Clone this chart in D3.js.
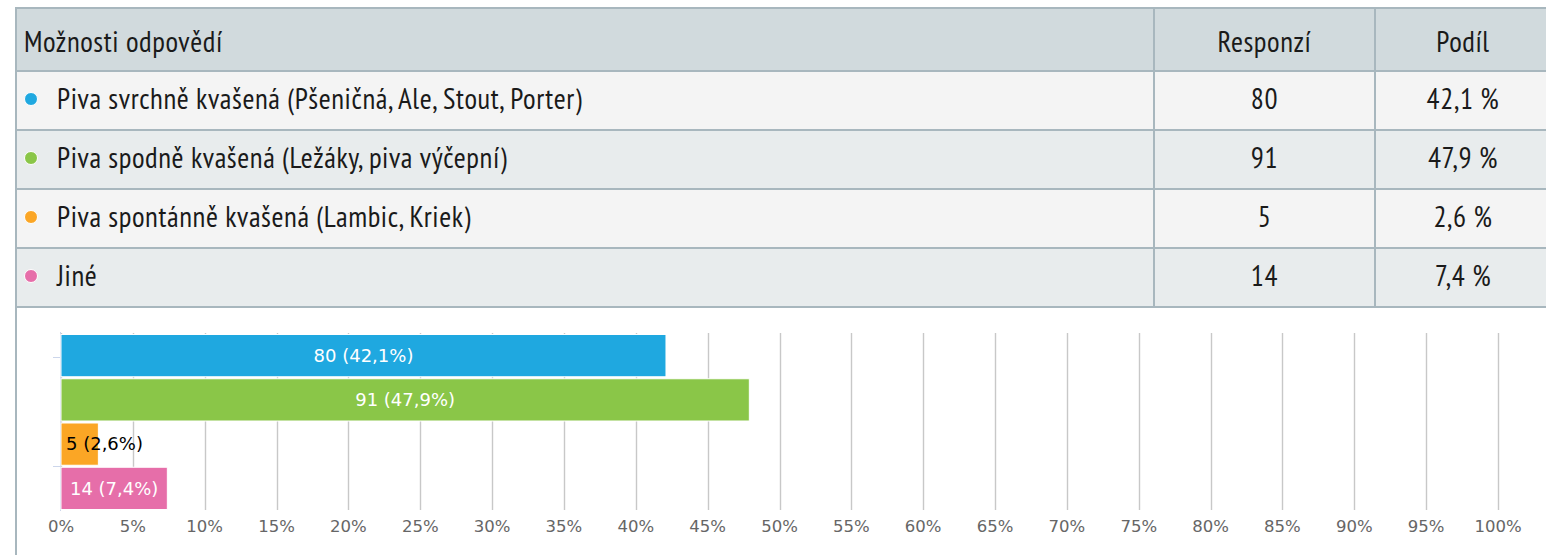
<!DOCTYPE html>
<html>
<head>
<meta charset="utf-8">
<script src="https://cdn.jsdelivr.net/npm/d3@7"></script>
<style>
  html, body { margin: 0; padding: 0; background: #fff; }
  svg { display: block; }
  .tbl text { font-family: "PT Sans Narrow", "DejaVu Sans Condensed", "DejaVu Sans", sans-serif; fill: #1a1a1a; font-size: 29px; letter-spacing: 0.6px; }
  .chart text { font-family: "DejaVu Sans", sans-serif; }
</style>
</head>
<body>
<div id="chart"></div>
<script>
const headers = ['Možnosti odpovědí', 'Responzí', 'Podíl'];
const categories = [
  'Piva svrchně kvašená (Pšeničná, Ale, Stout, Porter)',
  'Piva spodně kvašená (Ležáky, piva výčepní)',
  'Piva spontánně kvašená (Lambic, Kriek)',
  'Jiné'
];
const responses = [80, 91, 5, 14];
const shares = [42.1, 47.9, 2.6, 7.4];
const colors = ['#1fa8e0', '#8ac648', '#fba625', '#e66ea9'];

const W = 1546, H = 555;
const fmt = v => String(v.toFixed(1)).replace('.', ',');

const svg = d3.select('#chart').append('svg')
  .attr('width', W)
  .attr('height', H);

// ---- table ----
const colEdges = [16, 1154, 1375, 1551];
const headTop = 8, headBottom = 71, rowH = 59;
const rowTop = i => headBottom + i * rowH;
const borderCol = '#a8b7be';

const tbl = svg.append('g').attr('class', 'tbl');

tbl.append('rect')
  .attr('x', colEdges[0]).attr('y', headTop)
  .attr('width', colEdges[3] - colEdges[0]).attr('height', headBottom - headTop)
  .attr('fill', '#d1dadd');

tbl.selectAll('rect.row')
  .data(categories)
  .join('rect')
  .attr('class', 'row')
  .attr('x', colEdges[0]).attr('y', (d, i) => rowTop(i))
  .attr('width', colEdges[3] - colEdges[0]).attr('height', rowH)
  .attr('fill', (d, i) => i % 2 ? '#e8eced' : '#f4f4f4');

const tableBottom = rowTop(categories.length);
tbl.selectAll('line.h')
  .data([headTop, ...d3.range(categories.length + 1).map(rowTop)])
  .join('line')
  .attr('x1', colEdges[0]).attr('x2', colEdges[3])
  .attr('y1', d => d).attr('y2', d => d)
  .attr('stroke', borderCol).attr('stroke-width', 2);

tbl.selectAll('line.v')
  .data(colEdges.slice(1))
  .join('line')
  .attr('x1', d => d).attr('x2', d => d)
  .attr('y1', headTop).attr('y2', tableBottom)
  .attr('stroke', borderCol).attr('stroke-width', 2);

// outer left border runs on down past the chart
svg.append('line')
  .attr('x1', colEdges[0]).attr('x2', colEdges[0])
  .attr('y1', headTop - 1).attr('y2', H)
  .attr('stroke', borderCol).attr('stroke-width', 2);

function cellText(x, y, anchor, txt) {
  return tbl.append('text')
    .attr('x', x).attr('y', y)
    .attr('dy', '0.35em')
    .attr('text-anchor', anchor)
    .text(txt);
}

const headY = (headTop + headBottom) / 2 + 2;
const mid1 = (colEdges[1] + colEdges[2]) / 2;
const mid2 = (colEdges[2] + colEdges[3]) / 2;
cellText(colEdges[0] + 8, headY, 'start', headers[0]);
cellText(mid1, headY, 'middle', headers[1]);
cellText(mid2, headY, 'middle', headers[2]);

categories.forEach((c, i) => {
  const cy = rowTop(i) + rowH / 2;
  tbl.append('circle')
    .attr('cx', 31).attr('cy', cy - 1.5).attr('r', 6.5)
    .attr('fill', colors[i])
    .attr('stroke', '#fff').attr('stroke-width', 1);
  cellText(57, cy - 1.5, 'start', c);
  cellText(mid1, cy - 1.5, 'middle', responses[i]);
  cellText(mid2, cy - 1.5, 'middle', fmt(shares[i]) + ' %');
});

// ---- bar chart ----
const chart = svg.append('g').attr('class', 'chart');

const x = d3.scaleLinear().domain([0, 100]).range([61, 1498]);
const y = d3.scaleBand().domain(d3.range(categories.length)).range([333, 510]);
const yLin = d3.scaleLinear().domain([0, categories.length]).range([333, 510]);

chart.append('g')
  .selectAll('line')
  .data(x.ticks(20))
  .join('line')
  .attr('x1', d => Math.round(x(d)) + 0.5).attr('x2', d => Math.round(x(d)) + 0.5)
  .attr('y1', 333).attr('y2', 510)
  .attr('stroke', '#c8c8c8').attr('stroke-width', 1.4);

chart.append('g')
  .selectAll('text')
  .data(x.ticks(20))
  .join('text')
  .attr('x', d => x(d)).attr('y', 526).attr('dy', '0.35em')
  .attr('text-anchor', 'middle')
  .attr('fill', '#666').attr('font-size', 16.5)
  .text(d => d + '%');

// y axis line and its two ticks
chart.append('line')
  .attr('x1', 60.5).attr('x2', 60.5).attr('y1', 332).attr('y2', 511)
  .attr('stroke', '#ccd6eb');
chart.selectAll('line.yt')
  .data([0.55, 3])
  .join('line')
  .attr('class', 'yt')
  .attr('x1', 53).attr('x2', 60)
  .attr('y1', d => Math.round(yLin(d)) + 0.5).attr('y2', d => Math.round(yLin(d)) + 0.5)
  .attr('stroke', '#ccd6eb');

const bars = chart.selectAll('g.bar')
  .data(shares.map((p, i) => ({ p, i, n: responses[i] })))
  .join('g')
  .attr('class', 'bar');

bars.append('rect')
  .attr('x', x(0))
  .attr('y', d => y(d.i) + 1.5)
  .attr('width', d => x(d.p) - x(0))
  .attr('height', y.bandwidth() - 2)
  .attr('fill', d => colors[d.i])
  .attr('stroke', '#fff').attr('stroke-width', 1);

bars.append('text')
  .attr('y', d => y(d.i) + y.bandwidth() / 2 + 0.5)
  .attr('dy', '0.35em')
  .attr('font-size', 18)
  .text(d => `${d.n} (${fmt(d.p)}%)`)
  .each(function (d) {
    const w = this.getComputedTextLength();
    const bw = x(d.p) - x(0);
    const t = d3.select(this);
    if (w + 10 > bw) {
      t.attr('x', x(0) + 5).attr('text-anchor', 'start').attr('fill', '#000');
    } else {
      t.attr('x', (x(0) + x(d.p)) / 2).attr('text-anchor', 'middle').attr('fill', '#fff');
    }
  });
</script>
</body>
</html>
